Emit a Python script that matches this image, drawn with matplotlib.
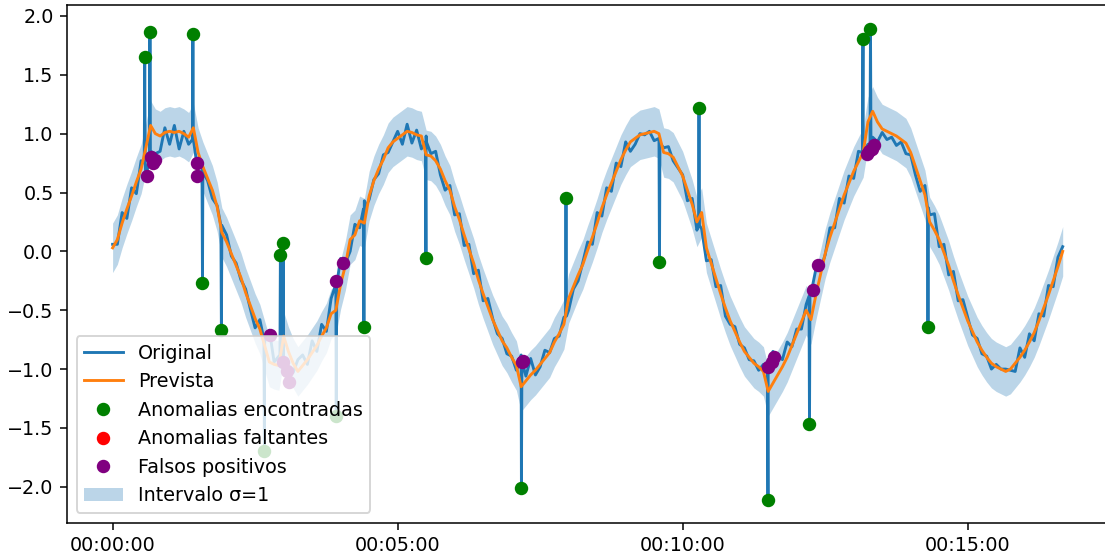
import matplotlib
matplotlib.use("Agg")
import matplotlib.pyplot as plt
from matplotlib.ticker import FuncFormatter
import numpy as np

# sampling of the series (seconds since start)
t_step = 5
t_end = 1000

# original signal, one value every 5 s
original = [
    0.06, 0.06, 0.33, 0.28, 0.54, 0.49, 0.77, 0.62, 0.85, 0.83,
    0.85, 1.05, 0.91, 1.07, 0.87, 1.02, 0.91, 0.94, 0.67, 0.71,
    0.60, 0.45, 0.39, 0.15, 0.14, -0.04, -0.10, -0.24, -0.32, -0.49,
    -0.65, -0.58, -0.79, -0.67, -0.94, -0.89, -1.00, -1.02, -1.03, -0.92,
    -0.88, -0.96, -0.76, -0.85, -0.62, -0.68, -0.40, -0.31, -0.06, -0.10,
    0.00, 0.23, 0.20, 0.43, 0.44, 0.61, 0.66, 0.82, 0.84, 0.93,
    1.02, 0.91, 1.08, 0.92, 1.03, 0.87, 0.98, 0.83, 0.85, 0.65,
    0.52, 0.56, 0.31, 0.32, 0.05, 0.06, -0.19, -0.16, -0.42, -0.40,
    -0.57, -0.70, -0.74, -0.87, -0.89, -1.01, -0.88, -1.06, -0.91, -1.05,
    -0.98, -0.84, -0.86, -0.74, -0.72, -0.56, -0.50, -0.32, -0.25, -0.09,
    0.08, 0.06, 0.33, 0.30, 0.54, 0.51, 0.75, 0.72, 0.93, 0.85,
    0.91, 1.00, 0.99, 1.02, 0.94, 0.96, 0.88, 0.89, 0.77, 0.71,
    0.65, 0.43, 0.45, 0.18, 0.19, -0.08, -0.07, -0.30, -0.29, -0.55,
    -0.62, -0.64, -0.79, -0.82, -0.92, -0.93, -1.01, -0.96, -0.98, -0.85,
    -0.88, -0.92, -0.77, -0.81, -0.66, -0.66, -0.45, -0.36, -0.16, -0.15,
    -0.03, 0.20, 0.20, 0.45, 0.41, 0.64, 0.62, 0.85, 0.81, 0.91,
    0.97, 0.93, 1.01, 0.95, 0.97, 0.90, 0.93, 0.83, 0.82, 0.65,
    0.51, 0.56, 0.31, 0.32, 0.04, 0.06, -0.20, -0.17, -0.42, -0.41,
    -0.56, -0.71, -0.74, -0.87, -0.89, -1.00, -0.96, -1.00, -1.00, -1.01,
    -1.02, -0.82, -0.90, -0.70, -0.76, -0.53, -0.55, -0.29, -0.30, -0.05,
    0.04,
]

# model prediction on the same grid
prevista = [
    0.03, 0.10, 0.24, 0.36, 0.47, 0.59, 0.70, 0.88, 1.07, 1.00,
    0.98, 1.01, 1.02, 1.01, 1.02, 1.00, 0.97, 1.05, 0.84, 0.72,
    0.62, 0.52, 0.38, 0.16, 0.08, -0.02, -0.12, -0.22, -0.35, -0.46,
    -0.57, -0.66, -0.80, -0.94, -0.96, -0.97, -0.72, -0.85, -0.95, -1.02,
    -0.97, -0.92, -0.86, -0.80, -0.72, -0.65, -0.53, -0.50, -0.28, -0.12,
    0.10, 0.14, 0.26, 0.24, 0.47, 0.60, 0.70, 0.78, 0.88, 0.93,
    0.96, 0.99, 1.02, 1.01, 0.99, 0.98, 0.82, 0.81, 0.77, 0.70,
    0.60, 0.52, 0.38, 0.27, 0.14, 0.02, -0.10, -0.24, -0.36, -0.47,
    -0.58, -0.67, -0.76, -0.82, -0.90, -0.97, -1.15, -1.10, -1.05, -1.01,
    -0.96, -0.91, -0.86, -0.77, -0.70, -0.62, -0.40, -0.30, -0.20, -0.11,
    0.01, 0.12, 0.24, 0.37, 0.48, 0.58, 0.68, 0.78, 0.86, 0.93,
    0.96, 0.99, 1.00, 1.01, 1.02, 1.00, 0.84, 0.83, 0.80, 0.72,
    0.64, 0.52, 0.40, 0.25, 0.33, 0.03, -0.10, -0.23, -0.36, -0.48,
    -0.59, -0.68, -0.77, -0.85, -0.90, -0.95, -0.98, -1.02, -1.19, -1.12,
    -1.05, -0.98, -0.90, -0.80, -0.70, -0.60, -0.50, -0.58, -0.38, -0.20,
    -0.02, 0.12, 0.24, 0.36, 0.48, 0.58, 0.68, 0.76, 0.84, 1.10,
    1.19, 1.10, 1.04, 1.02, 1.00, 0.98, 0.95, 0.92, 0.84, 0.72,
    0.60, 0.48, 0.25, 0.18, 0.10, -0.01, -0.12, -0.25, -0.37, -0.48,
    -0.59, -0.68, -0.77, -0.84, -0.90, -0.95, -0.98, -1.00, -1.02, -1.00,
    -0.95, -0.90, -0.84, -0.77, -0.69, -0.59, -0.48, -0.37, -0.25, -0.13,
    0.00,
]
sigma = 0.21

# anomalies that were found (single-sample spikes in the original)
anom_t = [33.8, 39.3, 84.5, 94.6, 114.5, 159.8, 176.6, 179.6, 235.4, 264.5,
          329.8, 430.3, 477.2, 575.6, 617.2, 689.8, 733.5, 789.8, 797.7, 858.2]
anom_v = [1.65, 1.86, 1.85, -0.27, -0.67, -1.70, -0.03, 0.07, -1.40, -0.64,
          -0.06, -2.01, 0.45, -0.09, 1.22, -2.11, -1.47, 1.80, 1.89, -0.64]
# level of the signal right around each spike
anom_base = [0.75, 0.80, 0.95, 0.68, 0.22, -0.75, -0.93, -0.95, -0.28, 0.36,
             0.93, -0.93, -0.55, 0.92, 0.22, -0.96, -0.38, 0.84, 0.90, 0.37]

# missed anomalies (none)
falt_t = []
falt_v = []

# false positives
fp_t = [36.4, 40.0, 42.1, 44.5, 89.1, 89.1, 165.6, 179.6, 183.2, 185.9,
        235.1, 242.1, 430.5, 432.0, 690.1, 693.7, 696.1, 736.8, 742.1,
        793.5, 796.5, 799.0, 801.5]
fp_v = [0.64, 0.80, 0.75, 0.78, 0.75, 0.64, -0.71, -0.94, -1.02, -1.11,
        -0.25, -0.10, -0.94, -0.93, -0.98, -0.94, -0.90, -0.33, -0.12,
        0.83, 0.85, 0.87, 0.90]

t_grid = np.arange(0, t_end + 1, t_step)
orig = np.array(original)
pred = np.array(prevista)

# put the one-sample spikes into the original series
at = np.array(anom_t)
ab = np.array(anom_base)
t_all = np.concatenate([t_grid, at - 0.5, at, at + 0.5])
y_all = np.concatenate([orig, ab, anom_v, ab])
order = np.argsort(t_all, kind="stable")
t_all = t_all[order]
y_all = y_all[order]

dpi = 138
fig = plt.figure(figsize=(1105 / dpi, 555 / dpi), dpi=dpi)
ax = fig.add_axes([67 / 1105, (555 - 522.7) / 555, (1110.2 - 67) / 1105, (522.7 - 5) / 555])

h1, = ax.plot(t_all, y_all, color="C0", label="Original")
h2, = ax.plot(t_grid, pred, color="C1", label="Prevista")
h3, = ax.plot(anom_t, anom_v, "o", color="green", label="Anomalias encontradas")
h4, = ax.plot(falt_t, falt_v, "o", color="red", label="Anomalias faltantes")
h5, = ax.plot(fp_t, fp_v, "o", color="purple", label="Falsos positivos")
h6 = ax.fill_between(t_grid, pred - sigma, pred + sigma, color="C0", alpha=0.3,
                     lw=0, zorder=1, label="Intervalo σ=1")

ax.set_xlim(-48, 1050)
ax.set_ylim(-2.305, 2.093)
ax.set_xticks([0, 300, 600, 900])
ax.xaxis.set_major_formatter(FuncFormatter(
    lambda s, pos: "%02d:%02d:%02d" % (s // 3600, (s % 3600) // 60, s % 60)))

ax.legend(handles=[h1, h2, h3, h4, h5, h6], loc="lower left")

fig.savefig("out.png", dpi=dpi)
